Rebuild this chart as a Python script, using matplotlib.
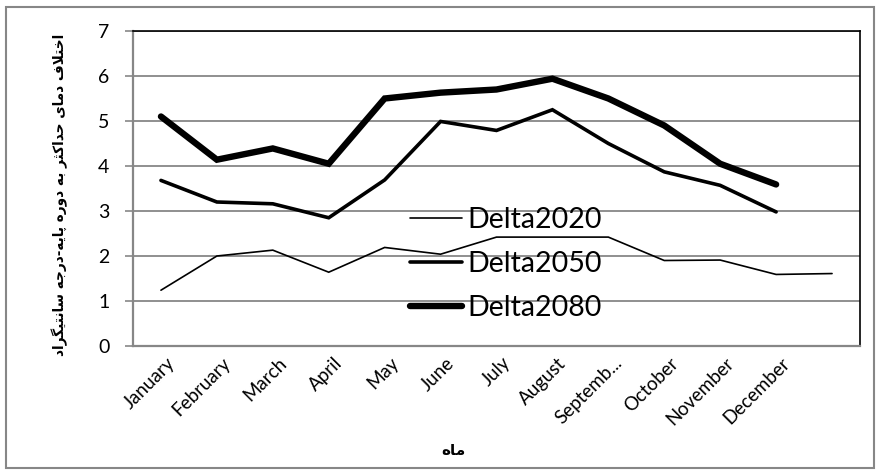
import numpy as np
import matplotlib
matplotlib.use("Agg")
import matplotlib.pyplot as plt
from matplotlib.patches import Rectangle
from matplotlib.transforms import ScaledTranslation

# ---- data -------------------------------------------------------------
months = ["January", "February", "March", "April", "May", "June", "July",
          "August", "Septemb...", "October", "November", "December", ""]
delta2020 = [1.24, 2.00, 2.13, 1.64, 2.19, 2.04, 2.42, 2.42, 2.42, 1.90, 1.91, 1.59, 1.61]
delta2050 = [3.68, 3.20, 3.16, 2.85, 3.69, 4.99, 4.79, 5.25, 4.50, 3.87, 3.57, 2.98, np.nan]
delta2080 = [5.10, 4.14, 4.39, 4.05, 5.50, 5.63, 5.70, 5.94, 5.50, 4.90, 4.05, 3.59, np.nan]
series_names = ["Delta2020", "Delta2050", "Delta2080"]
y_ticks = [0, 1, 2, 3, 4, 5, 6, 7]

y_title = "اختلاف دمای حداکثر به دوره پایه-درجه سانتیگراد"
x_title = "ماه"

# ---- minimal Arabic/Persian shaping (matplotlib has no complex layout) --
FORMS = {
    'ا': ('\uFE8D', '\uFE8E', None, None),
    'ب': ('\uFE8F', '\uFE90', '\uFE91', '\uFE92'),
    'ت': ('\uFE95', '\uFE96', '\uFE97', '\uFE98'),
    'ث': ('\uFE99', '\uFE9A', '\uFE9B', '\uFE9C'),
    'ج': ('\uFE9D', '\uFE9E', '\uFE9F', '\uFEA0'),
    'ح': ('\uFEA1', '\uFEA2', '\uFEA3', '\uFEA4'),
    'خ': ('\uFEA5', '\uFEA6', '\uFEA7', '\uFEA8'),
    'د': ('\uFEA9', '\uFEAA', None, None),
    'ر': ('\uFEAD', '\uFEAE', None, None),
    'س': ('\uFEB1', '\uFEB2', '\uFEB3', '\uFEB4'),
    'ف': ('\uFED1', '\uFED2', '\uFED3', '\uFED4'),
    'ل': ('\uFEDD', '\uFEDE', '\uFEDF', '\uFEE0'),
    'م': ('\uFEE1', '\uFEE2', '\uFEE3', '\uFEE4'),
    'ن': ('\uFEE5', '\uFEE6', '\uFEE7', '\uFEE8'),
    'ه': ('\uFEE9', '\uFEEA', '\uFEEB', '\uFEEC'),
    'و': ('\uFEED', '\uFEEE', None, None),
    'پ': ('\uFB56', '\uFB57', '\uFB58', '\uFB59'),
    'ک': ('\uFB8E', '\uFB8F', '\uFB90', '\uFB91'),
    'گ': ('\uFB92', '\uFB93', '\uFB94', '\uFB95'),
    'ی': ('\uFBFC', '\uFBFD', '\uFBFE', '\uFBFF'),
}


def shape_rtl(text):
    def dual(c):
        return c in FORMS and FORMS[c][2] is not None

    chars = list(text)
    n = len(chars)
    out = []
    i = 0
    while i < n:
        c = chars[i]
        if c not in FORMS:
            out.append(c)
            i += 1
            continue
        prev = chars[i - 1] if i > 0 else None
        joins_prev = prev is not None and dual(prev)
        if c == 'ل' and i + 1 < n and chars[i + 1] == 'ا':
            out.append('\uFEFC' if joins_prev else '\uFEFB')
            i += 2
            continue
        nxt = chars[i + 1] if i + 1 < n else None
        joins_next = dual(c) and nxt is not None and nxt in FORMS
        iso, fin, ini, med = FORMS[c]
        if joins_prev and joins_next:
            g = med
        elif joins_prev:
            g = fin
        elif joins_next:
            g = ini
        else:
            g = iso
        out.append(g)
        i += 1
    return ''.join(reversed(out))


# ---- figure -----------------------------------------------------------
plt.rcParams['font.family'] = ['Lato', 'DejaVu Sans']
GRID = '#878787'

fig = plt.figure(figsize=(8.81, 4.75), dpi=100)
ax = fig.add_axes([133 / 881, 1 - 346 / 475, 727 / 881, 315 / 475])

x = np.arange(len(months))
widths = [1.2, 2.6, 4.6]
for vals, name, lw in zip([delta2020, delta2050, delta2080], series_names, widths):
    ax.plot(x, vals, color='black', lw=lw, label=name,
            solid_joinstyle='miter', solid_capstyle='round', zorder=3)

ax.set_xlim(-0.5, len(months) - 0.5)
ax.set_ylim(0, 7)
ax.set_yticks(y_ticks)
ax.set_yticklabels([str(v) for v in y_ticks], fontsize=14)
ax.tick_params(axis='x', length=0, pad=6)
ax.tick_params(axis='y', length=6, width=1.2, color=GRID, pad=11)
ax.set_xticks(x)
ax.set_xticklabels(months, fontsize=13.5, rotation=45, ha='right', va='top',
                   rotation_mode='anchor')
# rotated month names end just right of their category centre
shift = ScaledTranslation(5 / 100, 0, fig.dpi_scale_trans)
for lbl in ax.get_xticklabels():
    lbl.set_transform(lbl.get_transform() + shift)

ax.yaxis.grid(True, color=GRID, lw=1.3)
ax.set_axisbelow(True)

for side in ['left', 'bottom']:
    ax.spines[side].set_color(GRID)
    ax.spines[side].set_linewidth(1.6)
for side in ['top', 'right']:
    ax.spines[side].set_color('black')
    ax.spines[side].set_linewidth(1.2)

ax.set_ylabel(shape_rtl(y_title), family='DejaVu Sans', fontweight='bold',
              fontsize=9.8)
ax.yaxis.set_label_coords((68 - 133) / 727, (346 - 195) / 315)
ax.set_xlabel(shape_rtl(x_title), family='DejaVu Sans', fontweight='bold',
              fontsize=11, va='top')
ax.xaxis.set_label_coords((453 - 133) / 727, (346 - 443) / 315)

leg = ax.legend(loc='center left', bbox_to_anchor=((410 - 133) / 727, (346 - 264) / 315),
                frameon=False, fontsize=20.5, handlelength=1.82, handletextpad=0.2,
                labelspacing=0.62, borderpad=0, borderaxespad=0)

# chart-area border
fig.patches.append(Rectangle((6 / 881, 1 - 468 / 475), 868 / 881, 461 / 475,
                             transform=fig.transFigure, fill=False,
                             ec=GRID, lw=1.5))

fig.savefig('out.png', dpi=100)
